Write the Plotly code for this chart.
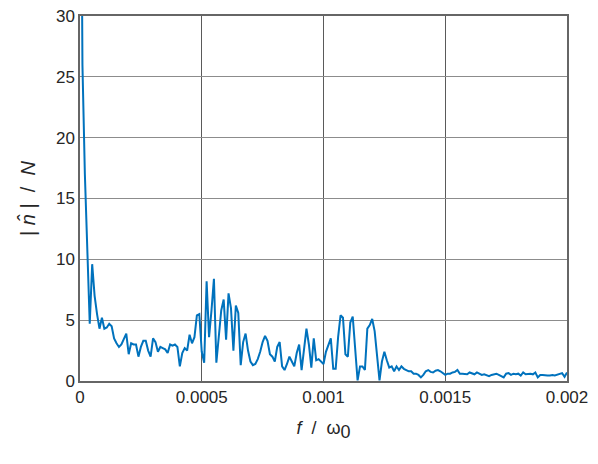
import plotly.graph_objects as go
import numpy as np

# frequency axis, f / omega_0 (step 1e-5)
freq = np.arange(201) * 1e-5

# spectrum magnitude |n_hat| / N
amp = [
    60.0, 26.0, 17.0, 11.0, 4.7, 9.6, 7.0, 5.5, 4.3, 5.2,
    4.3, 4.4, 4.7, 4.5, 3.5, 3.1, 2.8, 3.0, 3.5, 3.9,
    2.2, 3.1, 3.0, 3.0, 2.0, 2.8, 3.3, 3.3, 2.5, 2.0,
    3.5, 3.2, 2.4, 2.8, 2.7, 2.6, 2.3, 3.0, 2.9, 3.0,
    2.8, 1.2, 2.3, 2.7, 2.5, 3.8, 3.1, 3.6, 5.4, 5.5,
    2.4, 1.5, 8.2, 3.6, 5.8, 8.4, 1.5, 3.5, 5.8, 6.7,
    3.4, 7.2, 6.0, 2.5, 6.2, 5.6, 1.3, 3.2, 3.9, 2.5,
    1.6, 1.3, 1.4, 1.8, 2.4, 3.2, 3.7, 3.3, 2.2, 2.0,
    1.6, 2.8, 3.2, 1.2, 0.9, 1.4, 2.0, 1.6, 1.2, 2.3,
    3.0, 0.9, 2.6, 4.3, 3.0, 1.1, 3.5, 1.7, 1.8, 1.6,
    1.4, 2.4, 2.9, 3.5, 1.0, 1.0, 3.6, 5.4, 5.2, 2.2,
    2.0, 4.8, 5.3, 2.8, 0.05, 1.2, 1.2, 0.9, 4.3, 4.6,
    5.1, 4.1, 2.0, 0.05, 1.6, 2.4, 1.7, 1.1, 1.2, 0.8,
    1.2, 0.9, 1.2, 1.0, 0.9, 0.8, 0.8, 0.6, 0.6, 0.5,
    0.3, 0.5, 0.8, 0.9, 0.75, 0.7, 0.85, 0.9, 0.8, 0.65,
    0.5, 0.6, 0.6, 0.7, 0.75, 0.9, 0.6, 0.6, 0.6, 0.55,
    0.7, 0.6, 0.55, 0.7, 0.6, 0.5, 0.55, 0.45, 0.4, 0.5,
    0.55, 0.6, 0.5, 0.4, 0.3, 0.6, 0.65, 0.5, 0.6, 0.55,
    0.6, 0.45, 0.7, 0.55, 0.6, 0.6, 0.55, 0.7, 0.3, 0.5,
    0.5, 0.45, 0.45, 0.45, 0.5, 0.45, 0.5, 0.6, 0.65, 0.35,
    0.7,
]

x_ticks = [0, 0.0005, 0.001, 0.0015, 0.002]
x_tick_labels = ["0", "0.0005", "0.001", "0.0015", "0.002"]
y_ticks = [0, 5, 10, 15, 20, 25, 30]

fig = go.Figure()
fig.add_trace(go.Scatter(x=freq, y=amp, mode='lines',
                         line=dict(color='#0072BD', width=2),
                         showlegend=False))

axis_style = dict(showgrid=True, gridwidth=1,
                  showline=True, linecolor='#666666', linewidth=1.5,
                  mirror=True, zeroline=False, ticks='', automargin=False,
                  ticklabeloverflow='allow',
                  tickfont=dict(size=17, color='#262626'))

fig.update_xaxes(range=[0, 0.002], tickvals=x_ticks, ticktext=x_tick_labels,
                 gridcolor='#5a5a5a',
                 title=dict(text="<i>f</i>  /  ω<sub><span style='font-size:18px'>0</span></sub>",
                            font=dict(size=18, color='#262626')),
                 **axis_style)
fig.update_yaxes(range=[0, 30], tickvals=y_ticks,
                 gridcolor='#8c8c8c',
                 title=dict(text="| <i>n̂</i> |  /  <i>N</i>", font=dict(size=20, color='#262626')),
                 **axis_style)

# page body adds an 8px offset, so the figure is 8px smaller on each axis
fig.update_layout(
    width=590, height=456,
    margin=dict(l=72, r=31, t=8, b=83),
    plot_bgcolor='white', paper_bgcolor='white',
    font=dict(family='Liberation Sans, Arial, sans-serif'),
)

fig.write_html("out.html")
